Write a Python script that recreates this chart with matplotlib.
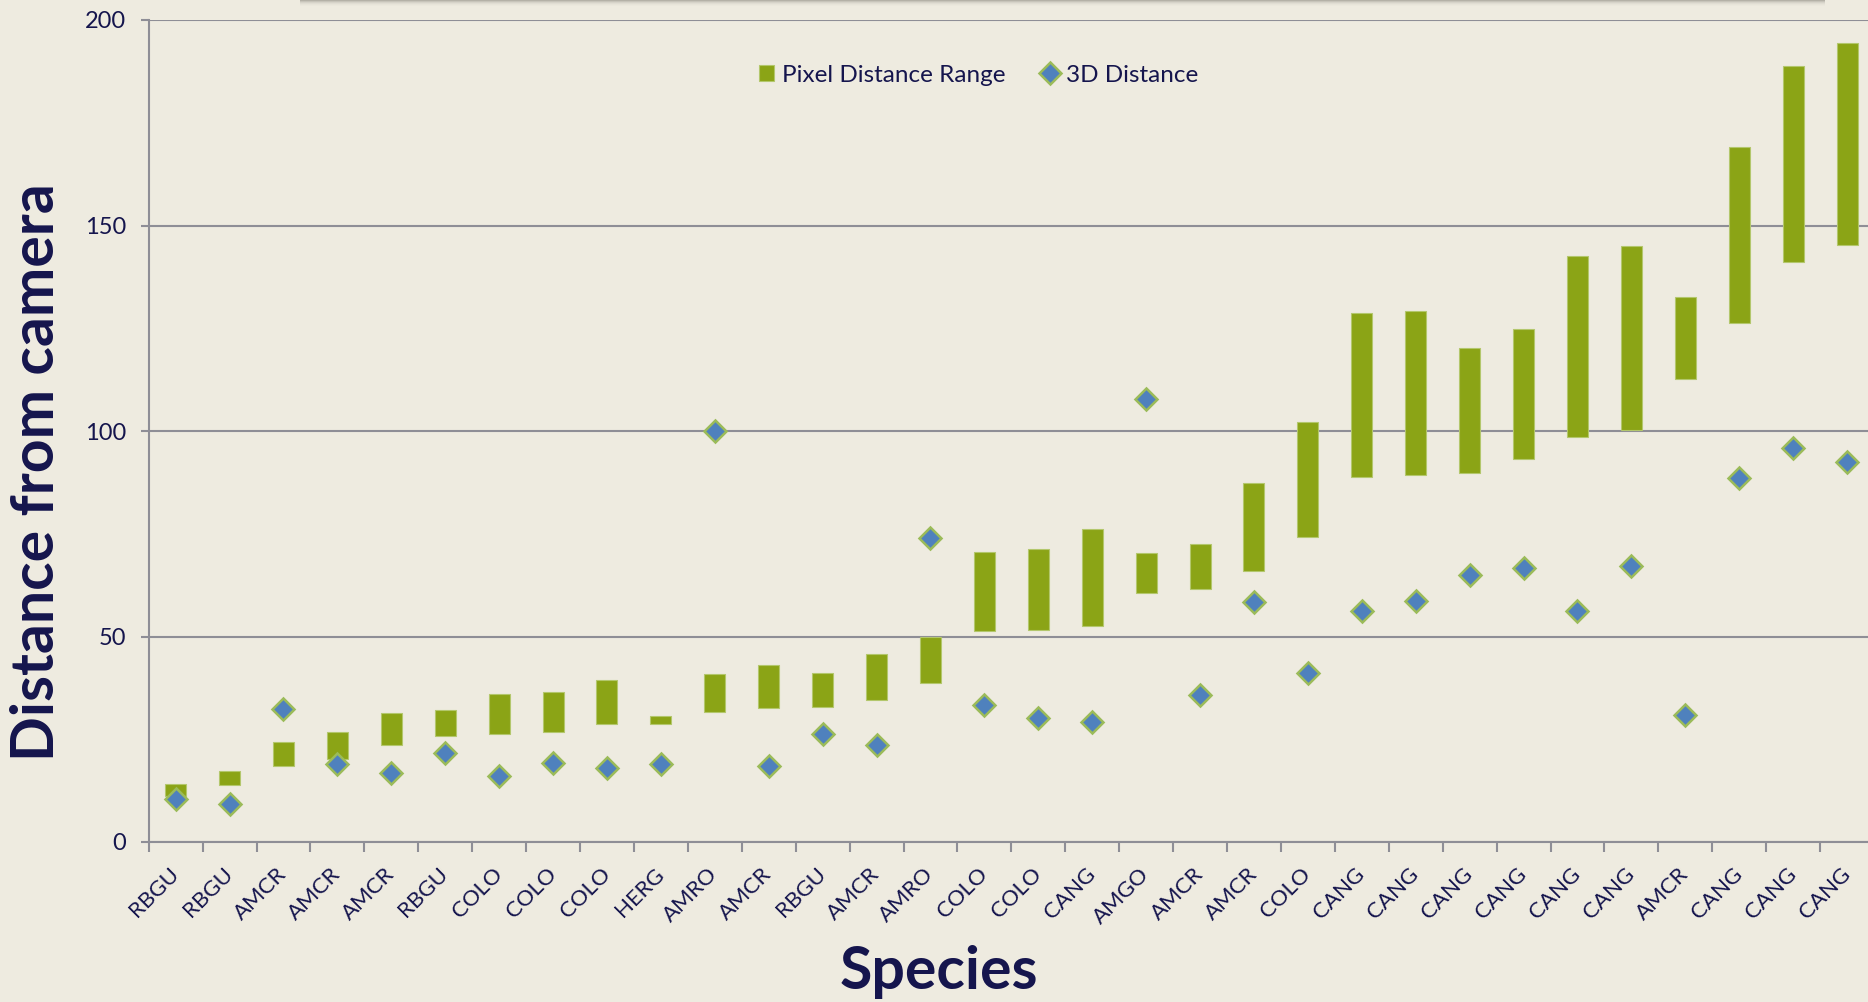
import numpy as np
import matplotlib
matplotlib.use("Agg")
import matplotlib.pyplot as plt
from matplotlib.patches import Rectangle

# Bird detections: species, range of pixel-based distance estimates, and 3D distance
species = ["RBGU", "RBGU", "AMCR", "AMCR", "AMCR", "RBGU", "COLO", "COLO",
           "COLO", "HERG", "AMRO", "AMCR", "RBGU", "AMCR", "AMRO", "COLO",
           "COLO", "CANG", "AMGO", "AMCR", "AMCR", "COLO", "CANG", "CANG",
           "CANG", "CANG", "CANG", "CANG", "AMCR", "CANG", "CANG", "CANG"]

pixel_low = [11.3, 13.8, 18.5, 20.2, 23.7, 25.7, 26.3, 26.7, 28.6, 28.8,
             31.7, 32.5, 32.9, 34.6, 38.8, 51.3, 51.6, 52.6, 60.7, 61.6,
             65.9, 74.2, 88.9, 89.2, 89.8, 93.3, 98.5, 100.2, 112.7, 126.3,
             141.0, 145.2]
pixel_high = [14.2, 17.2, 24.4, 26.7, 31.3, 32.2, 36.1, 36.5, 39.3, 30.6,
              40.8, 43.0, 41.2, 45.8, 50.0, 70.5, 71.2, 76.1, 70.2, 72.5,
              87.3, 102.2, 128.7, 129.1, 120.1, 124.8, 142.5, 145.0, 132.5, 169.1,
              188.7, 194.4]
dist_3d = [10.5, 9.3, 32.3, 19.0, 16.8, 21.7, 16.1, 19.2, 18.1, 18.9,
           99.9, 18.6, 26.3, 23.7, 73.9, 33.4, 30.1, 29.3, 107.7, 35.8,
           58.5, 41.2, 56.3, 58.6, 64.9, 66.7, 56.3, 67.2, 30.8, 88.5,
           95.9, 92.5]
y_ticks = [0, 50, 100, 150, 200]

BG = "#EEEBE0"
TEXT = "#15154D"
GRID = "#8E8E96"
BAR = "#8BA416"
BAR_EDGE = "#B3C76C"
DIAMOND = "#4F81BD"
DIAMOND_EDGE = "#9BBB59"

plt.rcParams["font.family"] = ["Lato", "DejaVu Sans"]

W, H = 1868, 1002
fig = plt.figure(figsize=(W / 100, H / 100), dpi=100, facecolor=BG)

# plot area (extends slightly past the right edge of the canvas)
left, right, top, bottom = 148.7, 1874.0, 20.0, 842.0
ax = fig.add_axes([left / W, 1 - bottom / H, (right - left) / W, (bottom - top) / H])
ax.set_facecolor(BG)

x = np.arange(len(species))
low = np.array(pixel_low)
high = np.array(pixel_high)

bars = ax.bar(x, high - low, bottom=low, width=0.39, color=BAR,
              edgecolor=BAR_EDGE, linewidth=0.8, zorder=3,
              label="Pixel Distance Range")
pts, = ax.plot(x, dist_3d, linestyle="none", marker="D", markersize=11,
               markerfacecolor=DIAMOND, markeredgecolor=DIAMOND_EDGE,
               markeredgewidth=1.8, zorder=4, label="3D Distance")

ax.set_xlim(-0.5, len(species) - 0.5)
ax.set_ylim(0, 200)

ax.set_yticks(y_ticks)
ax.yaxis.grid(True, color=GRID, linewidth=1.5, zorder=0)
ax.set_axisbelow(True)

# category boundaries carry the tick marks, centres carry the labels
ax.set_xticks(np.arange(-0.5, len(species), 1.0))
ax.set_xticklabels([])
ax.set_xticks(x, minor=True)
ax.set_xticklabels(species, minor=True, rotation=45, ha="right",
                   va="center", rotation_mode="anchor")

ax.tick_params(axis="x", which="major", direction="out", length=7,
               width=1.5, color=GRID)
ax.tick_params(axis="x", which="minor", length=0, pad=21,
               labelsize=16, labelcolor=TEXT)
ax.tick_params(axis="y", direction="out", length=6, width=1.5, color=GRID,
               labelsize=17, labelcolor=TEXT, pad=10)

for side in ("top", "right"):
    ax.spines[side].set_visible(False)
for side in ("left", "bottom"):
    ax.spines[side].set_color(GRID)
    ax.spines[side].set_linewidth(1.5)

leg = ax.legend(handles=[bars, pts], loc="center", ncol=2,
                bbox_to_anchor=(0.481, 0.933), frameon=False,
                fontsize=17.5, labelcolor=TEXT, handlelength=0.6,
                handleheight=0.6, handletextpad=0.35, columnspacing=1.5)

fig.text(37 / W, 1 - 472 / H, "Distance from camera", rotation=90,
         ha="center", va="center", fontsize=42.5, fontweight="bold", color=TEXT)
fig.text(939 / W, 1 - 972 / H, "Species", ha="center", va="center",
         fontsize=42.5, fontweight="bold", color=TEXT)

# soft drop shadow of a panel sitting above the chart
for i, a in enumerate([0.45, 0.3, 0.18, 0.1, 0.05, 0.02]):
    fig.patches.append(Rectangle((300 / W, 1 - (i + 1) / H), 1525 / W, 1 / H,
                                 transform=fig.transFigure, facecolor="#6E6B63",
                                 edgecolor="none", alpha=a, zorder=0))

fig.savefig("out.png", dpi=100, facecolor=BG)
